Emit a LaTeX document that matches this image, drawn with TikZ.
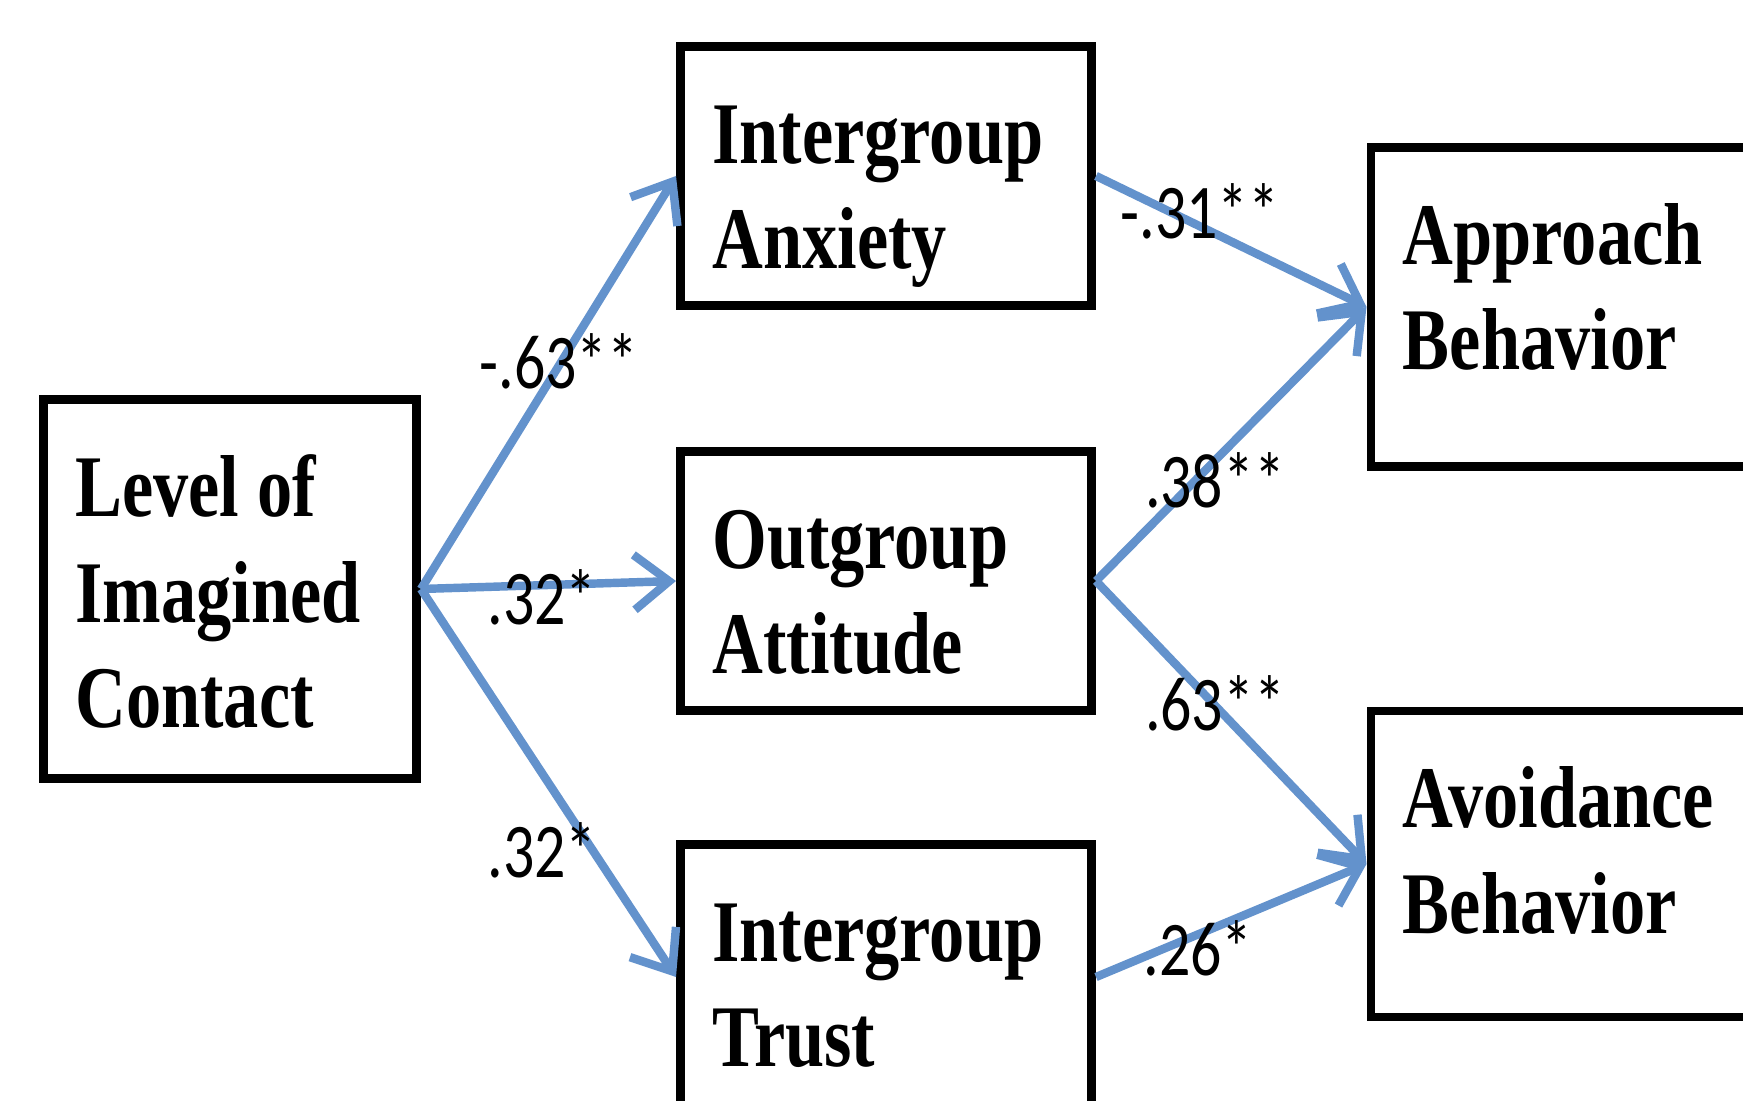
\documentclass[tikz,border=0pt]{standalone}
\usepackage{fontspec}
\usepackage{tikz}
\usetikzlibrary{arrows.meta, positioning}
\newfontfamily\boxfont[FakeStretch=0.8]{Liberation Serif}
\newfontfamily\coeffont[FakeStretch=0.8]{Carlito}
\definecolor{pathblue}{RGB}{99, 146, 204}

\begin{document}
\begin{tikzpicture}[
    x=0.01cm, y=-0.01cm,
    box/.style={rectangle, draw=black, line width=2.5pt, inner xsep=0.32cm, inner ysep=0pt, align=flush left, text height=0.6cm, font=\boxfont\bfseries\fontsize{25}{30}\selectfont},
    coef/.style={font=\coeffont\fontsize{22}{26}\selectfont, inner sep=0pt},
    arrow/.style={-{Straight Barb[length=3.5mm, width=5.5mm]}, line width=2.4pt, pathblue}
]
    \clip (0,0) rectangle (1743,1101);

    % Predictor
    \node[box, minimum width=3.73cm, minimum height=3.78cm, text width=3.09cm, text depth=2.04cm] (contact) at (230,589) {Level of\\Imagined\\Contact};

    % Mediators
    \node[box, minimum width=4.11cm, minimum height=2.59cm, text width=3.47cm, text depth=0.85cm] (anxiety) at (886,176) {Intergroup\\Anxiety};
    \node[box, minimum width=4.11cm, minimum height=2.59cm, text width=3.47cm, text depth=0.85cm] (attitude) at (886,581) {Outgroup\\Attitude};
    \node[box, minimum width=4.11cm, minimum height=2.65cm, text width=3.47cm, text depth=0.91cm] (trust) at (886,977) {Intergroup\\Trust};

    % Outcomes
    \node[box, minimum width=4.20cm, minimum height=3.19cm, text width=3.56cm, text depth=1.45cm] (approach) at (1581,307) {Approach\\Behavior};
    \node[box, minimum width=4.20cm, minimum height=3.06cm, text width=3.56cm, text depth=1.32cm] (avoidance) at (1581,864) {Avoidance\\Behavior};

    % Paths from contact
    \draw[arrow] (contact.east) -- (anxiety.west);
    \draw[arrow] (contact.east) -- (attitude.west);
    \draw[arrow] (contact.east) -- (trust.west);

    % Paths to behavior
    \draw[arrow] (anxiety.east) -- (approach.west);
    \draw[arrow] (attitude.east) -- (approach.west);
    \draw[arrow] (attitude.east) -- (avoidance.west);
    \draw[arrow] (trust.east) -- (avoidance.west);

    % Coefficients
    \node[coef] (c-anx) at (559,361) {-.63**};
    \node[coef] (c-att) at (542,597) {.32*};
    \node[coef] (c-tru) at (542,850) {.32*};
    \node[coef] (anx-app) at (1200,211) {-.31**};
    \node[coef] (att-app) at (1215,480) {.38**};
    \node[coef] (att-avo) at (1215,703) {.63**};
    \node[coef] (tru-avo) at (1198,948) {.26*};

\end{tikzpicture}
\end{document}
